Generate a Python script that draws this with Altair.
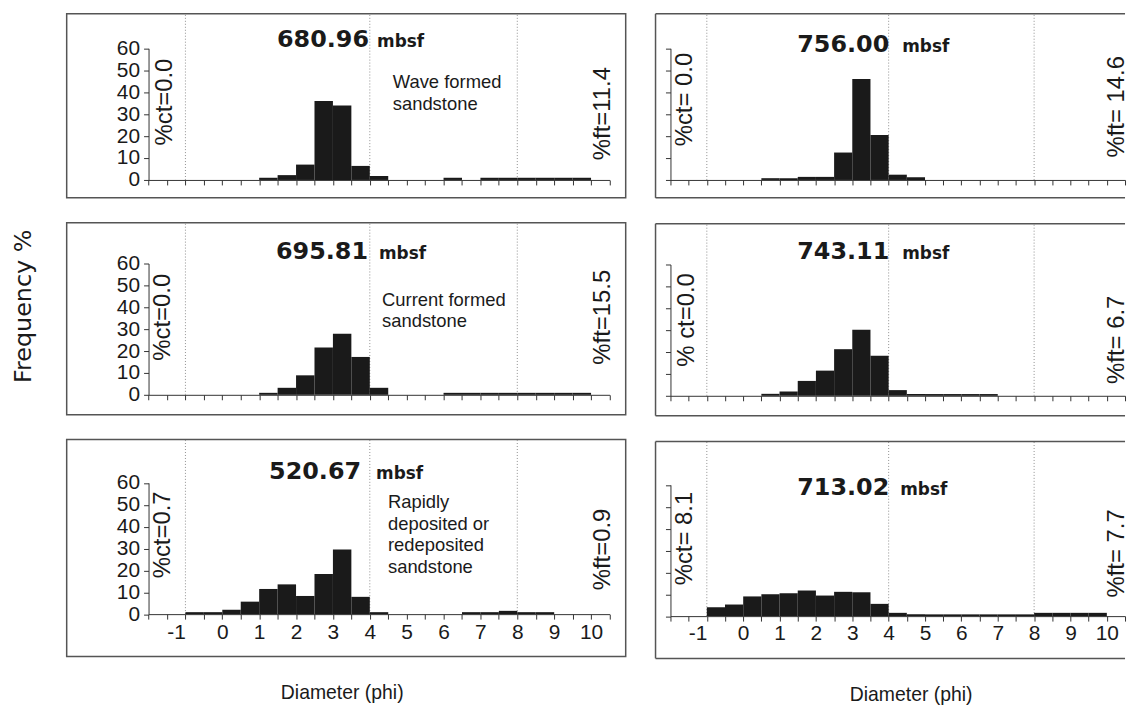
import altair as alt
import pandas as pd

# ---------------- data ----------------
bin_lo = [-1.0, -0.5, 0.0, 0.5, 1.0, 1.5, 2.0, 2.5, 3.0, 3.5, 4.0,
          4.5, 5.0, 5.5, 6.0, 6.5, 7.0, 7.5, 8.0, 8.5, 9.0, 9.5]
bin_hi = [-0.5, 0.0, 0.5, 1.0, 1.5, 2.0, 2.5, 3.0, 3.5, 4.0, 4.5,
          5.0, 5.5, 6.0, 6.5, 7.0, 7.5, 8.0, 8.5, 9.0, 9.5, 10.0]

f_68096 = [0, 0, 0, 0, 1.0, 2.2, 7.0, 36.0, 34.0, 6.4, 1.8,
           0, 0, 0, 1.0, 0, 1.0, 1.0, 1.0, 1.0, 1.0, 1.0]
f_75600 = [0, 0, 0, 0.8, 0.8, 1.4, 1.4, 12.5, 46.0, 20.5, 2.4,
           1.2, 0, 0, 0, 0, 0, 0, 0, 0, 0, 0]
f_69581 = [0, 0, 0, 0, 0.9, 3.2, 8.9, 21.6, 27.9, 17.3, 3.2,
           0, 0, 0, 0.9, 0.9, 0.9, 0.9, 0.9, 0.9, 0.9, 0.9]
f_74311 = [0, 0, 0, 0.9, 2.0, 6.8, 11.5, 21.3, 30.2, 18.3, 2.6,
           0.8, 0.8, 0.8, 0.8, 0.8, 0, 0, 0, 0, 0, 0]
f_52067 = [0.9, 0.9, 2.0, 5.7, 11.5, 13.6, 8.3, 18.3, 29.5, 7.9, 0.9,
           0, 0, 0, 0, 0.9, 0.9, 1.5, 0.9, 0.9, 0, 0]
f_71302 = [4.1, 5.3, 9.0, 10.0, 10.5, 11.7, 9.4, 11.1, 10.9, 5.6, 1.5,
           0.8, 0.8, 0.8, 0.8, 0.8, 0.8, 0.8, 1.5, 1.5, 1.5, 1.5]

FREQS = [f_68096, f_75600, f_69581, f_74311, f_52067, f_71302]
DEPTHS = ["680.96", "756.00", "695.81", "743.11", "520.67", "713.02"]
CT_LABELS = ["%ct=0.0", "%ct= 0.0", "%ct=0.0", "% ct=0.0", "%ct=0.7", "%ct= 8.1"]
FT_LABELS = ["%ft=11.4", "%ft= 14.6", "%ft=15.5", "%ft= 6.7", "%ft=0.9", "%ft= 7.7"]
NOTES = [["Wave formed", "sandstone"], None,
         ["Current formed", "sandstone"], None,
         ["Rapidly", "deposited or", "redeposited", "sandstone"], None]
CLASS_LIMITS = [-1, 4, 8]
X_TICKS = [-2, -1.5, -1, -0.5, 0, 0.5, 1, 1.5, 2, 2.5, 3, 3.5, 4, 4.5, 5,
           5.5, 6, 6.5, 7, 7.5, 8, 8.5, 9, 9.5, 10, 10.5]
Y_TICKS = [0, 10, 20, 30, 40, 50, 60]
Y_TITLE = "Frequency %"
X_TITLE = "Diameter (phi)"

# ---------------- layout ----------------
FONT = "Liberation Sans"
WIDE = "DejaVu Sans"
INK = "#1a1a1a"
AXC = "#333333"
BOX = "#555555"
W = {"L": 562, "R": 472}
H = [185, 193, 218]
Y_RANGE = [[167, 34.7], [173, 41], [175.5, 43.5]]
X_RANGE = {"L": [82.3, 545.7], "R": [15, 472]}

# col, row, number right x, mbsf left x, title baseline, ct xy, ft xy, note xy
LAYOUT = [
    ("L", 0, 304, 312, 33.7, (99, 88.7), (539.5, 100.3), (327.8, 74.7)),
    ("R", 0, 235, 248, 38.7, (30, 86.2), (464, 93.5), None),
    ("L", 1, 303, 314, 36.7, (97.3, 95), (539.5, 95), (317, 83.3)),
    ("R", 1, 235, 248, 35.0, (31.7, 96.7), (464, 116.7), None),
    ("L", 2, 296, 311, 40.0, (97.3, 95.8), (539, 110.5), (323, 69)),
    ("R", 2, 235, 246, 53.3, (30, 97.5), (464, 112.5), None),
]
XTITLE_POS = {"L": (277, 255), "R": (257, 255)}


def one(label):
    return pd.DataFrame({"t": [label]})


def panel(i):
    col, row, num_x, mbsf_x, title_y, ct_xy, ft_xy, note_xy = LAYOUT[i]
    w, h = W[col], H[row]
    df = pd.DataFrame({"lo": bin_lo, "hi": bin_hi, "f": FREQS[i]})
    df = df[df["f"] > 0]
    xs = alt.Scale(domain=[-2, 10.5], range=X_RANGE[col], nice=False, zero=False)
    ys = alt.Scale(domain=[0, 60], range=Y_RANGE[row], nice=False, zero=False)
    bottom = row == 2
    xaxis = alt.Axis(
        values=X_TICKS, labels=bottom, title=None, grid=False,
        labelExpr="datum.value >= -1 && datum.value % 1 == 0 ? '' + datum.value : ''",
        labelAlign={"condition": {"test": "datum.value == -1", "value": "right"},
                    "value": "center"},
        offset=-(h - Y_RANGE[row][0]), tickSize=5, labelFontSize=21,
        labelFont=FONT, labelPadding=2, labelOverlap=False, labelFlush=False,
        labelAngle=0,
    )
    yaxis = alt.Axis(
        values=Y_TICKS, labels=(col == "L"), title=None, grid=False,
        offset=-X_RANGE[col][0], tickSize=5, labelFontSize=21, labelFont=FONT,
        labelPadding=4, labelOverlap=False, labelFlush=False,
    )
    limits = alt.Chart(pd.DataFrame({"phi": CLASS_LIMITS})).mark_rule(
        color="#8f8f8f", strokeDash=[1, 2], strokeWidth=1
    ).encode(
        x=alt.X("phi:Q", scale=xs, axis=xaxis),
        y=alt.YDatum(0, scale=ys, axis=yaxis),
        y2=alt.value(0),
    )
    bars = alt.Chart(df).mark_rect(color=INK).encode(
        x=alt.X("lo:Q", scale=xs, axis=xaxis),
        x2="hi:Q",
        y=alt.Y("f:Q", scale=ys, axis=yaxis),
        y2=alt.datum(0),
    )

    num = alt.Chart(one(DEPTHS[i])).mark_text(
        align="right", baseline="alphabetic", font=WIDE, fontSize=24,
        fontWeight="bold", color=INK
    ).encode(text="t:N", x=alt.value(num_x), y=alt.value(title_y))
    mbsf = alt.Chart(one("mbsf")).mark_text(
        align="left", baseline="alphabetic", font=WIDE, fontSize=17,
        fontWeight="bold", color=INK
    ).encode(text="t:N", x=alt.value(mbsf_x), y=alt.value(title_y))
    ct = alt.Chart(one(CT_LABELS[i])).mark_text(
        angle=270, align="center", baseline="middle", font=FONT,
        fontSize=24, color=INK
    ).encode(text="t:N", x=alt.value(ct_xy[0]), y=alt.value(ct_xy[1]))
    ft = alt.Chart(one(FT_LABELS[i])).mark_text(
        angle=270, align="center", baseline="middle", font=FONT,
        fontSize=24, color=INK
    ).encode(text="t:N", x=alt.value(ft_xy[0]), y=alt.value(ft_xy[1]))
    layers = [limits, bars, num, mbsf, ct, ft]

    if NOTES[i] is not None:
        note = alt.Chart(one("n")).mark_text(
            align="left", baseline="alphabetic", font=FONT, fontSize=18.5,
            lineHeight=21.6, color=INK
        ).encode(text=alt.value(NOTES[i]), x=alt.value(note_xy[0]),
                 y=alt.value(note_xy[1]))
        layers.append(note)

    if bottom:
        tx, ty = XTITLE_POS[col]
        xt = alt.Chart(one(X_TITLE)).mark_text(
            align="center", baseline="middle", font=FONT, fontSize=19.5, color=INK
        ).encode(text="t:N", x=alt.value(tx), y=alt.value(ty))
        layers.append(xt)

    if col == "R":
        frame = alt.Chart(one("f")).mark_rule(color=BOX, strokeWidth=1.5)
        layers += [
            frame.encode(x=alt.value(0), x2=alt.value(w), y=alt.value(0)),
            frame.encode(x=alt.value(0), x2=alt.value(w), y=alt.value(h)),
            frame.encode(x=alt.value(0), y=alt.value(0), y2=alt.value(h)),
        ]
        ch = alt.layer(*layers).properties(
            width=w, height=h, view=alt.ViewBackground(stroke="transparent"))
    else:
        ch = alt.layer(*layers).properties(width=w, height=h)
    return ch


left_col = alt.vconcat(panel(0), panel(2), panel(4), spacing=22)
right_col = alt.vconcat(panel(1), panel(3), panel(5), spacing=22)

ytitle = alt.Chart(one(Y_TITLE)).mark_text(
    angle=270, align="center", baseline="middle", font=WIDE, fontSize=24,
    color=INK
).encode(text="t:N", x=alt.value(15.3), y=alt.value(294)).properties(
    width=29, height=sum(H) + 44, view=alt.ViewBackground(stroke="transparent"))

chart = alt.hconcat(ytitle, left_col, right_col, spacing=27).properties(
    padding={"left": 0, "top": 2, "right": 0, "bottom": 0}
).configure_view(stroke=BOX, strokeWidth=1.5).configure_axis(
    domainColor=AXC, tickColor=AXC, domainWidth=1, tickWidth=1,
    labelColor=INK
)

chart.save("out.html", embed_options={"renderer": "svg", "actions": False})
